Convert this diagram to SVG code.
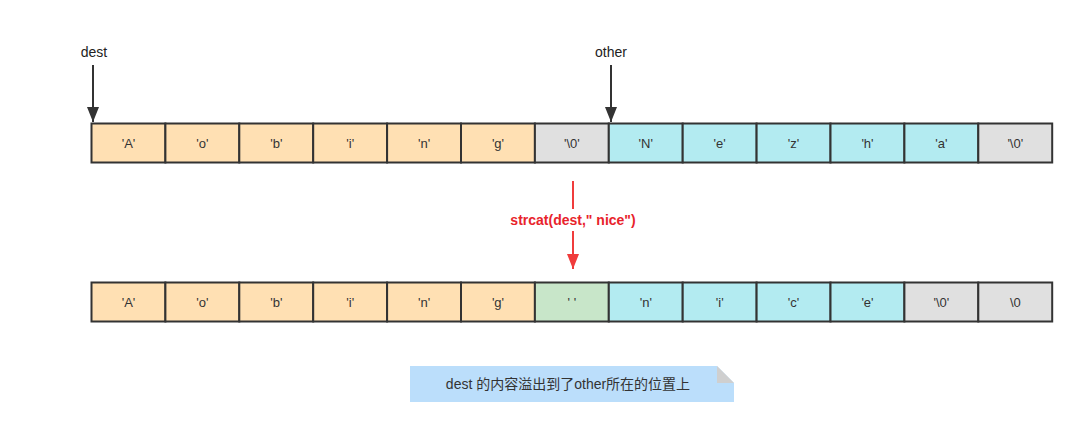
<svg xmlns="http://www.w3.org/2000/svg" width="1080" height="430" viewBox="0 0 1080 430">
<defs>
<style>
.c{stroke:#333;stroke-width:2}
.o{fill:#ffe0b3}
.b{fill:#b3ebf1}
.g{fill:#e0e0e0}
.gr{fill:#c8e6c9}
.t{font-family:"Liberation Sans",Arial,sans-serif;font-size:13px;fill:#333;text-anchor:middle}
.lbl{font-family:"Liberation Sans",Arial,sans-serif;font-size:14px;fill:#222;text-anchor:middle}
</style>
<marker id="ah" markerWidth="15" markerHeight="12" refX="15" refY="6" orient="auto" markerUnits="userSpaceOnUse" viewBox="0 0 15 12"><path d="M0,0 L15,6 L0,12 Z" fill="#333"/></marker>
<marker id="ahr" markerWidth="15" markerHeight="12" refX="15" refY="6" orient="auto" markerUnits="userSpaceOnUse" viewBox="0 0 15 12"><path d="M0,0 L15,6 L0,12 Z" fill="#f03c3c"/></marker>
</defs>
<rect width="1080" height="430" fill="#fff"/>
<g id="top-row">
<rect class="c o" x="91.5" y="123.5" width="73.9" height="39"/><text class="t" x="128.5" y="147.5">'A'</text>
<rect class="c o" x="165.4" y="123.5" width="73.9" height="39"/><text class="t" x="202.4" y="147.5">'o'</text>
<rect class="c o" x="239.3" y="123.5" width="73.9" height="39"/><text class="t" x="276.3" y="147.5">'b'</text>
<rect class="c o" x="313.2" y="123.5" width="73.9" height="39"/><text class="t" x="350.2" y="147.5">'i'</text>
<rect class="c o" x="387.1" y="123.5" width="73.9" height="39"/><text class="t" x="424.1" y="147.5">'n'</text>
<rect class="c o" x="461" y="123.5" width="73.9" height="39"/><text class="t" x="498" y="147.5">'g'</text>
<rect class="c g" x="534.9" y="123.5" width="73.9" height="39"/><text class="t" x="571.9" y="147.5">'\0'</text>
<rect class="c b" x="608.8" y="123.5" width="73.9" height="39"/><text class="t" x="645.8" y="147.5">'N'</text>
<rect class="c b" x="682.7" y="123.5" width="73.9" height="39"/><text class="t" x="719.7" y="147.5">'e'</text>
<rect class="c b" x="756.6" y="123.5" width="73.9" height="39"/><text class="t" x="793.6" y="147.5">'z'</text>
<rect class="c b" x="830.5" y="123.5" width="73.9" height="39"/><text class="t" x="867.5" y="147.5">'h'</text>
<rect class="c b" x="904.4" y="123.5" width="73.9" height="39"/><text class="t" x="941.4" y="147.5">'a'</text>
<rect class="c g" x="978.3" y="123.5" width="73.9" height="39"/><text class="t" x="1015.3" y="147.5">'\0'</text>
</g>
<g id="bottom-row">
<rect class="c o" x="91.5" y="282.5" width="73.9" height="39"/><text class="t" x="128.5" y="306.5">'A'</text>
<rect class="c o" x="165.4" y="282.5" width="73.9" height="39"/><text class="t" x="202.4" y="306.5">'o'</text>
<rect class="c o" x="239.3" y="282.5" width="73.9" height="39"/><text class="t" x="276.3" y="306.5">'b'</text>
<rect class="c o" x="313.2" y="282.5" width="73.9" height="39"/><text class="t" x="350.2" y="306.5">'i'</text>
<rect class="c o" x="387.1" y="282.5" width="73.9" height="39"/><text class="t" x="424.1" y="306.5">'n'</text>
<rect class="c o" x="461" y="282.5" width="73.9" height="39"/><text class="t" x="498" y="306.5">'g'</text>
<rect class="c gr" x="534.9" y="282.5" width="73.9" height="39"/><text class="t" x="571.9" y="306.5">' '</text>
<rect class="c b" x="608.8" y="282.5" width="73.9" height="39"/><text class="t" x="645.8" y="306.5">'n'</text>
<rect class="c b" x="682.7" y="282.5" width="73.9" height="39"/><text class="t" x="719.7" y="306.5">'i'</text>
<rect class="c b" x="756.6" y="282.5" width="73.9" height="39"/><text class="t" x="793.6" y="306.5">'c'</text>
<rect class="c b" x="830.5" y="282.5" width="73.9" height="39"/><text class="t" x="867.5" y="306.5">'e'</text>
<rect class="c g" x="904.4" y="282.5" width="73.9" height="39"/><text class="t" x="941.4" y="306.5">'\0'</text>
<rect class="c g" x="978.3" y="282.5" width="73.9" height="39"/><text class="t" x="1015.3" y="306.5">\0</text>
</g>
<g id="dest-label"><text class="lbl" x="94" y="57">dest</text></g>
<g id="other-label"><text class="lbl" x="611" y="57">other</text></g>
<g id="note">
<path d="M410,366 H717 L734,383 V402 H410 Z" fill="#bbdefb"/>
<path d="M717,366 L734,383 H717 Z" fill="#cfcfcf"/>
<text x="568" y="389" font-family="'Liberation Sans','Noto Sans CJK SC',sans-serif" font-size="14" fill="#333" text-anchor="middle">dest 的内容溢出到了other所在的位置上</text>
</g>
<g id="connectors">
<line x1="93" y1="65" x2="93" y2="122" stroke="#333" stroke-width="2" marker-end="url(#ah)"/>
<line x1="611" y1="65" x2="611" y2="122" stroke="#333" stroke-width="2" marker-end="url(#ah)"/>
<line x1="573" y1="181" x2="573" y2="269" stroke="#f03c3c" stroke-width="2" marker-end="url(#ahr)"/>
<rect x="500" y="209" width="146" height="22" fill="#fff"/>
<text x="573" y="225" font-family="'Liberation Sans',Arial,sans-serif" font-size="14" font-weight="bold" fill="#e8232b" text-anchor="middle">strcat(dest," nice")</text>
</g>
</svg>
